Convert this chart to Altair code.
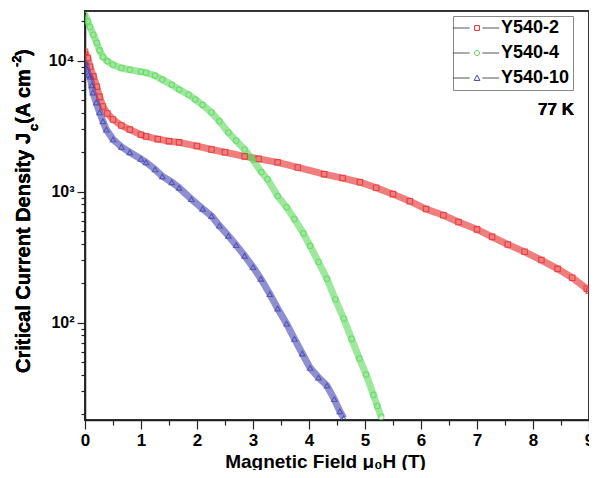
import altair as alt
import pandas as pd

series_names = ["Y540-2", "Y540-4", "Y540-10"]
series_colors = ["#e52a2a", "#5cd95c", "#4242b0"]

red_T = [0.00, 0.05, 0.09, 0.15, 0.21, 0.26, 0.32, 0.40, 0.50, 0.65, 0.80, 1.00, 1.09, 1.30, 1.50, 1.68,
         2.00, 2.26, 2.50, 2.85, 3.10, 3.44, 3.80, 4.27, 4.60, 4.91, 5.20, 5.50, 5.80, 6.09, 6.40, 6.67,
         7.00, 7.27, 7.55, 7.85, 8.15, 8.44, 8.70, 8.96, 9.00]
red_J = [11700, 10500, 9000, 7600, 6340, 5300, 4470, 3950, 3560, 3200, 2980, 2720, 2640, 2520, 2430, 2380,
         2230, 2100, 2000, 1860, 1780, 1675, 1530, 1360, 1270, 1180, 1070, 957, 845, 736, 660, 586,
         515, 451, 395, 347, 300, 257, 220, 181, 175]

green_T = [0.00, 0.05, 0.09, 0.15, 0.21, 0.26, 0.32, 0.40, 0.50, 0.65, 0.80, 1.00, 1.09, 1.25, 1.38, 1.55,
           1.68, 1.85, 1.97, 2.10, 2.26, 2.40, 2.56, 2.70, 2.85, 3.00, 3.15, 3.26, 3.44, 3.60, 3.74, 3.90,
           4.02, 4.17, 4.32, 4.47, 4.62, 4.76, 4.90, 5.02, 5.15, 5.22, 5.29]
green_J = [22400, 20000, 18100, 15800, 13700, 12000, 10700, 9900, 9320, 8800, 8540, 8250, 8110, 7700, 7180, 6550,
           6020, 5500, 5050, 4600, 4020, 3450, 2830, 2450, 2100, 1750, 1410, 1245, 925, 760, 617, 480,
           385, 290, 216, 150, 107, 75, 53, 40, 28, 23, 19]

blue_T = [0.00, 0.03, 0.06, 0.09, 0.12, 0.14, 0.20, 0.26, 0.32, 0.38, 0.50, 0.65, 0.80, 1.00, 1.09, 1.25,
          1.38, 1.55, 1.68, 1.90, 2.10, 2.26, 2.40, 2.56, 2.70, 2.85, 3.00, 3.14, 3.30, 3.44, 3.60, 3.74,
          3.88, 4.02, 4.17, 4.32, 4.45, 4.55, 4.62]
blue_J = [9800, 8700, 7800, 7560, 6500, 5720, 4800, 4030, 3450, 2980, 2510, 2200, 2000, 1780, 1675, 1480,
          1310, 1180, 1070, 877, 740, 652, 550, 460, 390, 324, 265, 216, 165, 128, 98, 75,
          58, 45, 38, 33, 26, 21, 18.6]

x_ticks = [0, 0.5, 1, 1.5, 2, 2.5, 3, 3.5, 4, 4.5, 5, 5.5, 6, 6.5, 7, 7.5, 8, 8.5, 9]
y_ticks = [20, 30, 40, 50, 60, 70, 80, 90, 100, 200, 300, 400, 500, 600, 700, 800, 900,
           1000, 2000, 3000, 4000, 5000, 6000, 7000, 8000, 9000, 10000, 20000]

rows = []
for name, ts, js in [("Y540-2", red_T, red_J), ("Y540-4", green_T, green_J), ("Y540-10", blue_T, blue_J)]:
    for t, j in zip(ts, js):
        rows.append({"series": name, "T": t, "Jc": j})
df = pd.DataFrame(rows)
legend_df = df.groupby("series", sort=False).head(1)

FONT = "Liberation Sans"

x_enc = alt.X("T:Q", scale=alt.Scale(domain=[0, 9], nice=False),
              axis=alt.Axis(values=x_ticks, grid=False,
                            labelExpr="datum.value % 1 === 0 ? format(datum.value, 'd') : ''",
                            tickSize={"condition": {"test": "datum.value % 1 === 0", "value": 9}, "value": 5},
                            tickColor="#222", tickWidth=1.2, domainColor="#222", domainWidth=1.5,
                            labelFont=FONT, labelFontSize=17, labelFontWeight="bold", labelColor="black",
                            labelPadding=3, labelFlush=False,
                            title="Magnetic Field μ₀H (T)", titleFont=FONT, titleFontSize=19,
                            titleFontWeight="bold", titleColor="black", titleX=240, titleY=47,
                            titleAlign="center", titleBaseline="alphabetic"))
y_enc = alt.Y("Jc:Q", scale=alt.Scale(type="log", domain=[18, 24000], nice=False),
              axis=alt.Axis(values=y_ticks, grid=False, title=None,
                            labelExpr="datum.value == 100 ? '10²' : datum.value == 1000 ? '10³' : datum.value == 10000 ? '10⁴' : ''",
                            tickSize={"condition": {"test": "indexof([100, 1000, 10000], datum.value) >= 0", "value": 8}, "value": 4},
                            tickColor="#222", tickWidth=1.2, domainColor="#222", domainWidth=1.5,
                            labelFont=FONT, labelFontSize=16, labelFontWeight="bold", labelColor="black",
                            labelPadding=3))

def color_enc(legend=None):
    return alt.Color("series:N", scale=alt.Scale(domain=series_names, range=series_colors), legend=legend)

lines = alt.Chart(df).mark_line(strokeWidth=7, opacity=0.6, clip=True).encode(
    x=x_enc, y=y_enc, color=color_enc(), order="T:Q")
points = alt.Chart(df).mark_point(filled=False, size=30, strokeWidth=1.1, opacity=0.75, clip=True).encode(
    x=x_enc, y=y_enc, color=color_enc(),
    shape=alt.Shape("series:N", scale=alt.Scale(domain=series_names, range=["square", "circle", "triangle-up"]),
                    legend=None))

line_path = "M-2.9,0H-0.8M0.8,0H2.9"
marker_paths = [
    "M-0.3,-0.3H0.3V0.3H-0.3Z",
    "M-0.32,0A0.32,0.32 0 1,0 0.32,0A0.32,0.32 0 1,0 -0.32,0Z",
    "M0,-0.36L0.36,0.3H-0.36Z",
]

common = dict(title=None, orient="none", legendY=5, padding=3, symbolSize=256,
              symbolStrokeWidth=1, symbolOffset=11, labelOffset=16, labelFont=FONT, labelFontSize=18,
              labelFontWeight="bold", labelColor="black", rowPadding=7, symbolOpacity=1)

leg_lines = alt.Legend(strokeColor="#888", legendX=368, **common)
leg_marks = alt.Legend(labelExpr="''", legendX=369, **common)

legend_lines = alt.Chart(legend_df).mark_point(filled=False, opacity=0, color="#555").encode(
    x=x_enc, y=y_enc,
    shape=alt.Shape("series:N", scale=alt.Scale(domain=series_names, range=[line_path] * 3), legend=leg_lines))
legend_marks = alt.Chart(legend_df).mark_point(filled=False, opacity=0).encode(
    x=x_enc, y=y_enc,
    color=color_enc(leg_marks),
    shape=alt.Shape("series:N", scale=alt.Scale(domain=series_names, range=marker_paths), legend=leg_marks))

def txt(text, x, y, size, align="left", angle=0):
    return alt.Chart(legend_df).mark_text(text=text, align=align, baseline="alphabetic", angle=angle,
                                          font=FONT, fontSize=size, fontWeight="bold", color="black").encode(
        x=alt.value(x), y=alt.value(y))

ann = [
    txt("77 K", 489, 104, 17, align="right"),
    txt("Critical Current Density J", -55, 362, 20, angle=270),
    txt("c", -47, 120, 13, angle=270),
    txt("(A cm", -55, 113, 20, angle=270),
    txt("-2", -64, 56, 13, angle=270),
    txt(")", -55, 45, 20, angle=270),
]

chart = alt.layer(lines, points, legend_lines, legend_marks, *ann).resolve_scale(
    color="independent", shape="independent"
).properties(
    width=504, height=409,
    autosize=alt.AutoSizeParams(type="none"),
    padding={"left": 77, "top": 3, "right": 0, "bottom": 50},
    background="white",
).configure_view(stroke="#333", strokeWidth=2)

chart.save("out.html", embed_options={"renderer": "svg", "actions": False})
